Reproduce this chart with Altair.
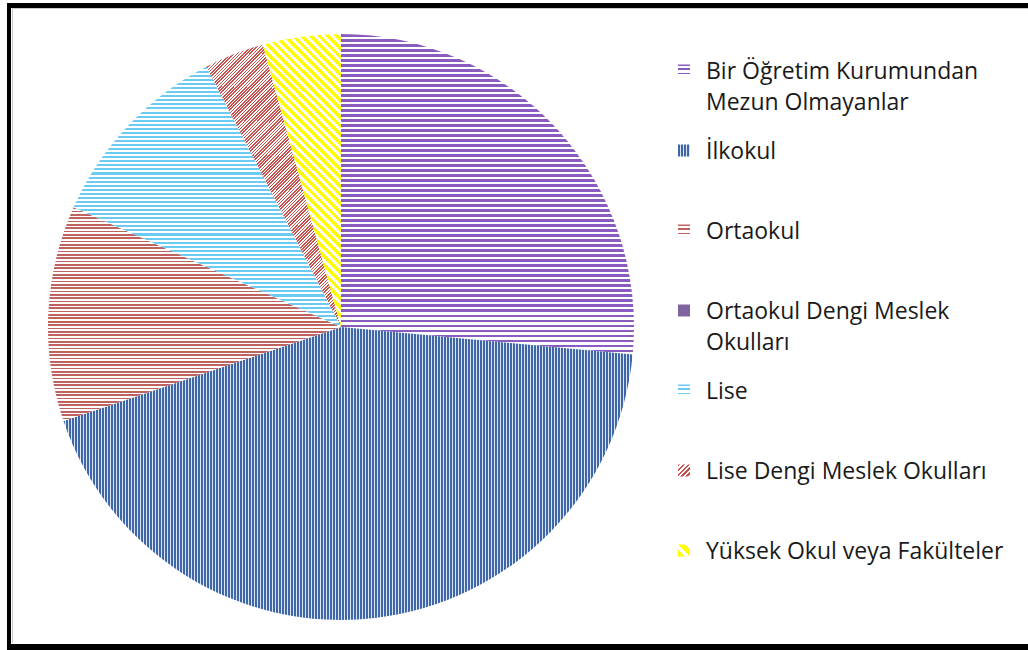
import altair as alt
import pandas as pd

# Education levels (share of respondents, %), clockwise from 12 o'clock
categories = [
    "Bir Öğretim Kurumundan\nMezun Olmayanlar",
    "İlkokul",
    "Ortaokul",
    "Ortaokul Dengi Meslek\nOkulları",
    "Lise",
    "Lise Dengi Meslek Okulları",
    "Yüksek Okul veya Fakülteler",
]
shares = [26.5, 43.3, 11.9, 0.0, 10.7, 3.3, 4.3]
order = list(range(len(categories)))

df = pd.DataFrame({"label": categories, "value": shares, "idx": order})


def stripes(line, bg, n, frac, x1, y1, x2, y2):
    """Hard-edged linear gradient that imitates a hatch fill."""
    stops = []
    for i in range(n):
        a = round(i / n, 5)
        b = round((i + frac) / n, 5)
        c = round((i + 1) / n, 5)
        stops += [
            {"offset": a, "color": line},
            {"offset": b, "color": line},
            {"offset": b, "color": bg},
            {"offset": c, "color": bg},
        ]
    return {"gradient": "linear", "x1": x1, "y1": y1, "x2": x2, "y2": y2, "stops": stops}


def diag(w, h, rising=True):
    """End point of a gradient vector giving 45-degree stripes on a w x h box."""
    s = (w + h) / (w * w + h * h)
    a, b = w * s, h * s
    if rising:  # "/" stripes
        return 0, 0, a, b
    return 0, 1, a, 1 - b  # "\" stripes


PURPLE = "#8a5cc0"
BLUE = "#3f66a6"
ZIGZAG = "#bf6361"
DASH = "#6ccbf3"
YELLOW = "#ffff00"
SOLID = "#8064a2"
WHITE = "#ffffff"

pie_fills = [
    stripes(PURPLE, WHITE, 64, 0.5, 0, 0, 0, 1),
    stripes(BLUE, "#dbe4f1", 190, 0.62, 0, 0, 1, 0),
    stripes(ZIGZAG, WHITE, 64, 0.5, 0, 0, 0, 1),
    SOLID,
    stripes(DASH, WHITE, 64, 0.5, 0, 0, 0, 1),
    stripes("#c9504d", WHITE, 128, 0.5, *diag(135, 282, True)),
    stripes(YELLOW, WHITE, 43, 0.55, *diag(78, 293, False)),
]

key_fills = [
    stripes(PURPLE, WHITE, 3, 0.4, 0, 0, 0, 1),
    stripes(BLUE, "#dbe4f1", 4, 0.6, 0, 0, 1, 0),
    stripes(ZIGZAG, WHITE, 3, 0.4, 0, 0, 0, 1),
    SOLID,
    stripes(DASH, WHITE, 3, 0.3, 0, 0, 0, 1),
    stripes("#c9504d", WHITE, 5, 0.5, *diag(12, 12, True)),
    stripes(YELLOW, WHITE, 2, 0.55, *diag(12, 12, False)),
]


def fill_by_index(fills):
    return alt.FillValue(
        value=fills[-1],
        condition=[
            {"test": f"datum.idx == {i}", "value": f}
            for i, f in enumerate(fills[:-1])
        ],
    )


base = alt.Chart(df)

pie = base.mark_arc(outerRadius=293).encode(
    theta=alt.Theta("value:Q", stack=True),
    order=alt.Order("idx:Q"),
    fill=fill_by_index(pie_fills),
    x=alt.value(341),
    y=alt.value(327),
)

row_y = alt.Y(
    "idx:Q",
    scale=alt.Scale(domain=[0, 6], range=[70.5, 550.5]),
    axis=None,
)

keys = base.mark_point(shape="square", size=144, filled=True, opacity=1, strokeWidth=0).encode(
    x=alt.value(684),
    y=row_y,
    fill=fill_by_index(key_fills),
)

labels = base.mark_text(
    align="left",
    baseline="alphabetic",
    dy=8,
    lineBreak="\n",
    lineHeight=31,
    font="Open Sans",
    fontSize=23,
    color="#1a1a1a",
).encode(
    x=alt.value(706),
    y=row_y,
    text="label:N",
)

frame_src = alt.Chart(pd.DataFrame({"k": [0]}))
frame = alt.layer(
    frame_src.mark_rule(color="#c8c8c8", strokeWidth=1).encode(
        x=alt.value(12), x2=alt.value(1028), y=alt.value(8.5)
    ),
    frame_src.mark_rule(color="#c8c8c8", strokeWidth=1).encode(
        x=alt.value(12.5), y=alt.value(8), y2=alt.value(643)
    ),
    frame_src.mark_rule(color="black", strokeWidth=5).encode(
        x=alt.value(7), x2=alt.value(1028), y=alt.value(5.5)
    ),
    frame_src.mark_rule(color="black", strokeWidth=4).encode(
        x=alt.value(9), y=alt.value(3), y2=alt.value(650)
    ),
    frame_src.mark_rule(color="black", strokeWidth=6).encode(
        x=alt.value(7), x2=alt.value(1028), y=alt.value(647)
    ),
)

chart = (
    alt.layer(pie, keys, labels, frame)
    .properties(
        width=1028,
        height=650,
        padding=0,
        autosize=alt.AutoSizeParams(type="none"),
        background="white",
    )
    .configure_view(stroke=None)
)

chart.save("out.html", embed_options={"renderer": "svg", "actions": False})
